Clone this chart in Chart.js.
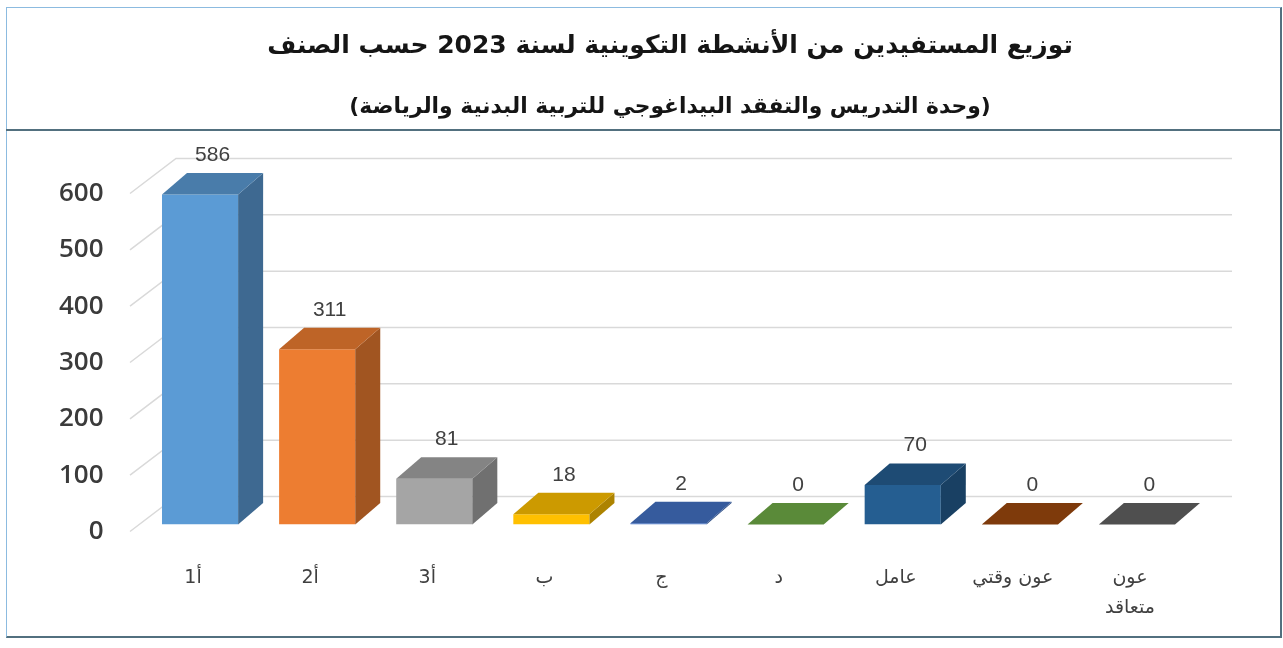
<!DOCTYPE html>
<html lang="ar">
<head>
<meta charset="utf-8">
<title>توزيع المستفيدين من الأنشطة التكوينية لسنة 2023</title>
<script src="https://cdn.jsdelivr.net/npm/chart.js@4.4.1/dist/chart.umd.min.js"></script>
<style>
  html, body { margin: 0; padding: 0; background: #fff; }
  #wrap { position: relative; width: 1283px; height: 648px; overflow: hidden; }
  #chart { position: absolute; left: 0; top: 0; }
  .frame {
    position: absolute; left: 6px; top: 7px; width: 1276px; height: 631px;
    box-sizing: border-box;
    border-top: 1px solid #8cbbe0; border-left: 1px solid #8cbbe0;
    border-right: 2px solid #52707f; border-bottom: 2px solid #52707f;
    pointer-events: none;
  }
  .sep { position: absolute; left: 6px; top: 129px; width: 1276px; height: 2px; background: #52707f; }
  .title {
    position: absolute; left: 230px; width: 880px; text-align: center;
    direction: rtl; font-family: "DejaVu Sans", sans-serif; font-weight: bold; color: #151515;
    white-space: nowrap;
  }
  #t1 { top: 27px; font-size: 25px; line-height: 36px; }
  #t2 { top: 92px; font-size: 21.8px; line-height: 28px; }
</style>
</head>
<body>
<div id="wrap">
  <canvas id="chart" width="1283" height="648"></canvas>
  <div class="frame"></div>
  <div class="sep"></div>
  <div class="title" id="t1">توزيع المستفيدين من الأنشطة التكوينية لسنة 2023 حسب الصنف</div>
  <div class="title" id="t2">(وحدة التدريس والتفقد البيداغوجي للتربية البدنية والرياضة)</div>
</div>
<script>
// Beneficiaries per grade
const categories = ['أ1', 'أ2', 'أ3', 'ب', 'ج', 'د', 'عامل', 'عون وقتي', ['عون', 'متعاقد']];
const beneficiaries = [586, 311, 81, 18, 2, 0, 70, 0, 0];
const yTicks = [0, 100, 200, 300, 400, 500, 600];

const barColors = ['#5b9bd5', '#ed7d31', '#a5a5a5', '#ffc000', '#4472c4', '#70ad47', '#255e91', '#9e480e', '#636363'];

// 3D look: bar depth and the offset of the back wall
const depthX = 25, depthY = 21.5;
const wallBack = { x: 34.5, y: 28 };
const wallFront = { x: -11.5, y: 7 };

function shade(hex, f) {
  const n = parseInt(hex.slice(1), 16);
  const r = Math.round(((n >> 16) & 255) * f);
  const g = Math.round(((n >> 8) & 255) * f);
  const b = Math.round((n & 255) * f);
  return `rgb(${r},${g},${b})`;
}

function poly(ctx, pts, fill) {
  ctx.beginPath();
  ctx.moveTo(pts[0][0], pts[0][1]);
  for (let i = 1; i < pts.length; i++) ctx.lineTo(pts[i][0], pts[i][1]);
  ctx.closePath();
  ctx.fillStyle = fill;
  ctx.fill();
}

const walls = {
  id: 'walls',
  beforeDatasetsDraw(chart) {
    const { ctx, chartArea } = chart;
    const yScale = chart.scales.y;
    ctx.save();
    ctx.strokeStyle = '#d9d9d9';
    ctx.lineWidth = 1.5;
    yTicks.forEach(v => {
      const py = yScale.getPixelForValue(v);
      ctx.beginPath();
      ctx.moveTo(chartArea.left + wallFront.x, py + wallFront.y);
      ctx.lineTo(chartArea.left + wallBack.x, py - wallBack.y);
      ctx.lineTo(chartArea.right + 36.5, py - wallBack.y);
      ctx.stroke();
    });
    ctx.restore();
  },
  afterDatasetsDraw(chart) {
    const { ctx } = chart;
    const meta = chart.getDatasetMeta(0);
    ctx.save();
    meta.data.forEach((bar, i) => {
      const { x, y, base, width } = bar.getProps(['x', 'y', 'base', 'width'], true);
      const l = x - width / 2, r = x + width / 2;
      const c = barColors[i];
      // side face
      if (base - y > 0.5) {
        poly(ctx, [[r, y], [r + depthX, y - depthY], [r + depthX, base - depthY], [r, base]], shade(c, 0.68));
      }
      // top face
      poly(ctx, [[l, y], [l + depthX, y - depthY], [r + depthX, y - depthY], [r, y]], shade(c, 0.8));
      // value label
      ctx.fillStyle = '#404040';
      ctx.font = '21px "Liberation Sans", sans-serif';
      ctx.textAlign = 'center';
      ctx.textBaseline = 'middle';
      ctx.fillText(String(beneficiaries[i]), x + depthX / 2, y - depthY - 18);
    });
    ctx.restore();
  }
};

new Chart(document.getElementById('chart'), {
  type: 'bar',
  data: {
    labels: categories,
    datasets: [{
      data: beneficiaries,
      backgroundColor: barColors,
      borderWidth: 0,
      categoryPercentage: 1,
      barPercentage: 0.65
    }]
  },
  options: {
    responsive: false,
    animation: false,
    layout: { padding: { left: 0, right: 87.5, top: 186.5, bottom: 0 } },
    plugins: {
      legend: { display: false },
      tooltip: { enabled: false }
    },
    scales: {
      x: {
        grid: { display: false, drawTicks: false },
        border: { display: false },
        afterFit(axis) { axis.height = 123.5; },
        ticks: {
          padding: 38,
          labelOffset: -7,
          color: '#404040',
          font: { family: '"DejaVu Sans", sans-serif', size: 19, lineHeight: 1.6 },
          maxRotation: 0,
          autoSkip: false
        }
      },
      y: {
        min: 0,
        max: 600,
        grid: { display: false, drawTicks: false },
        border: { display: false },
        afterFit(axis) { axis.width = 141.5; },
        ticks: {
          stepSize: 100,
          padding: 38,
          labelOffset: 7,
          color: '#3b3b3b',
          font: { family: '"Open Sans", sans-serif', size: 26, weight: '600' }
        }
      }
    }
  },
  plugins: [walls]
});
</script>
</body>
</html>
